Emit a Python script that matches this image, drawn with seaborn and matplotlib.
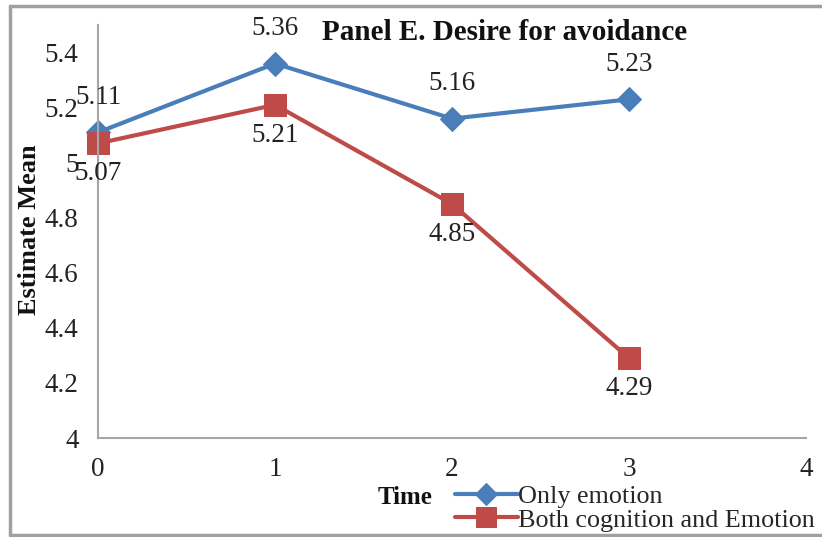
import matplotlib
matplotlib.use("Agg")
import matplotlib.pyplot as plt
from matplotlib.lines import Line2D
import seaborn as sns
import pandas as pd

# Estimated means of desire for avoidance over time
time_points = [0, 1, 2, 3]
only_emotion = [5.11, 5.36, 5.16, 5.23]
both_cog_emotion = [5.07, 5.21, 4.85, 4.29]
series_names = ["Only emotion", "Both cognition and Emotion"]
y_ticks = [4.0, 4.2, 4.4, 4.6, 4.8, 5.0, 5.2, 5.4]
y_tick_labels = ["4", "4.2", "4.4", "4.6", "4.8", "5", "5.2", "5.4"]
x_ticks = [0, 1, 2, 3, 4]

df = pd.DataFrame({
    "Time": time_points * 2,
    "Mean": only_emotion + both_cog_emotion,
    "Group": [series_names[0]] * 4 + [series_names[1]] * 4,
})

sns.set_theme(style="white")
plt.rcParams["font.family"] = ["Liberation Serif", "DejaVu Serif"]

colors = {series_names[0]: "#4a7ebb", series_names[1]: "#be4b48"}
markers = {series_names[0]: "D", series_names[1]: "s"}
msizes = {series_names[0]: 12, series_names[1]: 15.5}

fig = plt.figure(figsize=(8.22, 5.37), dpi=100)
ax = fig.add_axes([98 / 822, 1 - 438 / 537, (806 - 98) / 822, (438 - 25) / 537])

for name in series_names:
    sub = df[df["Group"] == name]
    sns.lineplot(data=sub, x="Time", y="Mean", ax=ax, color=colors[name],
                 marker=markers[name], markersize=msizes[name],
                 markeredgecolor=colors[name], linewidth=3, label=name,
                 clip_on=False)

# value labels: above for the blue series, below for the red series
for x, v in zip(time_points, only_emotion):
    ax.annotate(f"{v:.2f}", (x, v), xytext=(0, 25), textcoords="offset points",
                ha="center", va="center", fontsize=19.5, color="#222222")
for x, v in zip(time_points, both_cog_emotion):
    ax.annotate(f"{v:.2f}", (x, v), xytext=(0, -22), textcoords="offset points",
                ha="center", va="center", fontsize=19.5, color="#222222")

ax.set_xlim(0, 4)
ax.set_ylim(4, 5.5)
ax.set_xticks(x_ticks)
ax.set_yticks(y_ticks)
ax.set_yticklabels(y_tick_labels)
ax.tick_params(axis="both", length=0, labelsize=19.5, colors="#222222")
ax.tick_params(axis="y", pad=14)
ax.tick_params(axis="x", pad=14)
for side in ["top", "right"]:
    ax.spines[side].set_visible(False)
for side in ["left", "bottom"]:
    ax.spines[side].set_color("#a6a6a6")
    ax.spines[side].set_linewidth(1.5)
ax.set_xlabel("")
ax.set_ylabel("")

fig.text(505 / 822, 1 - 32 / 537, "Panel E. Desire for avoidance", ha="center",
         va="center", fontsize=21, fontweight="bold", color="#111111")
fig.text(30 / 822, 1 - 230 / 537, "Estimate Mean", rotation=90, ha="center",
         va="center", fontsize=19, fontweight="bold", color="#111111")
fig.text(405 / 822, 1 - 498 / 537, "Time", ha="center", va="center",
         fontsize=18, fontweight="bold", color="#111111")

ax.legend(loc="upper left", bbox_to_anchor=(455 / 822, 1 - 485 / 537),
          bbox_transform=fig.transFigure, frameon=False, fontsize=18.8,
          handlelength=2.4, handletextpad=0.02, labelspacing=0.0,
          borderpad=0, borderaxespad=0, markerscale=0.9)

# outer chart border
border = dict(color="#a0a0a0", linewidth=2.5, transform=fig.transFigure)
fig.add_artist(Line2D([10 / 822, 1.01], [1 - 6 / 537, 1 - 6 / 537], **border))
fig.add_artist(Line2D([10 / 822, 10 / 822], [1 - 6 / 537, 1 - 535 / 537], **border))
fig.add_artist(Line2D([10 / 822, 1.01], [1 - 535 / 537, 1 - 535 / 537], **border))

fig.savefig("out.png", dpi=100)
